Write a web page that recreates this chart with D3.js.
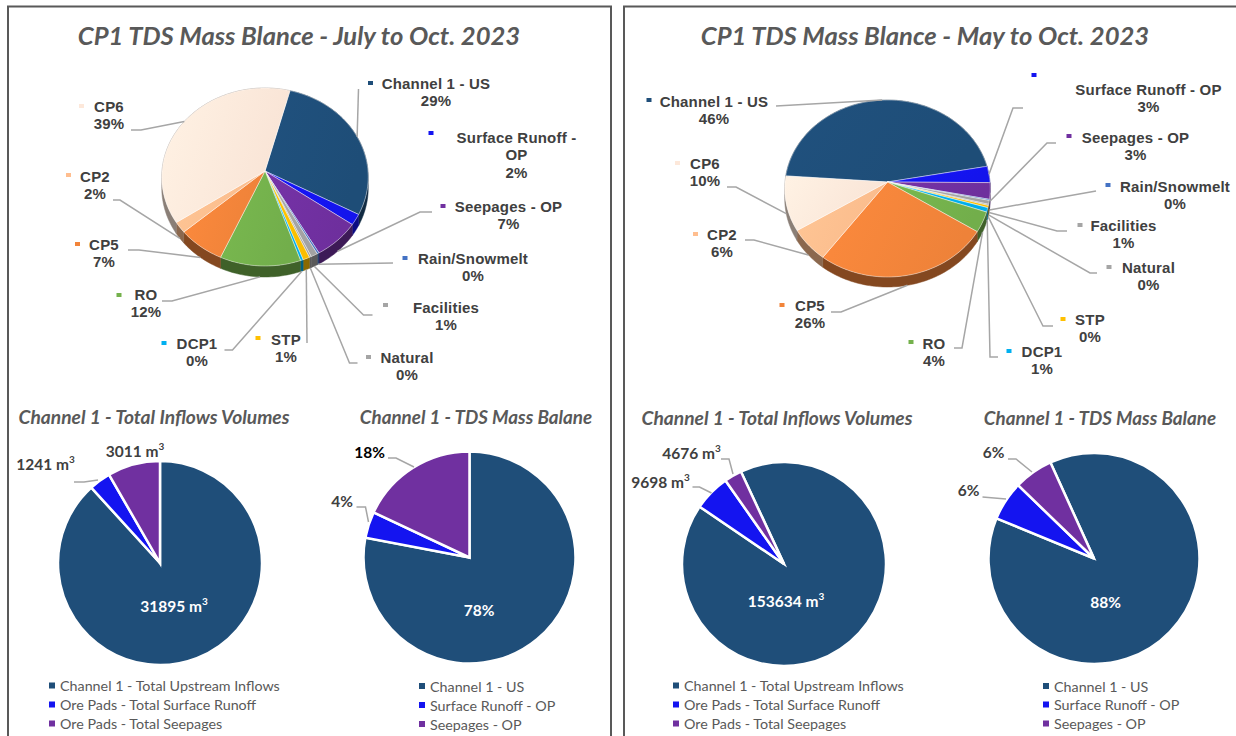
<!DOCTYPE html>
<html>
<head>
<meta charset="utf-8">
<script src="https://cdn.jsdelivr.net/npm/d3@7"></script>
<style>
    html, body { margin: 0; padding: 0; background: #fff; }
    svg { display: block; }
    text { fill: #404040; }
    .big-label { font: bold 15px "Liberation Sans", sans-serif; letter-spacing: 0.2px; text-anchor: middle; dominant-baseline: central; }
    .main-title { font: italic bold 25.6px Lato, sans-serif; fill: #595959; text-anchor: middle; dominant-baseline: central; }
    .sub-title { font: italic bold 18.8px Lato, sans-serif; fill: #595959; text-anchor: middle; dominant-baseline: central; }
    .pie-label { font: bold 15.5px Lato, sans-serif; text-anchor: middle; dominant-baseline: central; }
    .legend-label { font: 14.3px Lato, sans-serif; fill: #595959; dominant-baseline: central; }
    .leader { fill: none; stroke: #a6a6a6; stroke-width: 1.5px; }
</style>
</head>
<body>
<svg id="chart" width="1236" height="736"></svg>
<script>
// series shared by the two big pies
const sources = ['Channel 1 - US', 'Surface Runoff - OP', 'Seepages - OP', 'Rain/Snowmelt', 'Facilities',
    'Natural', 'STP', 'DCP1', 'RO', 'CP5', 'CP2', 'CP6'];
const sourceColors = ['#1f4e79', '#1414f0', '#7030a0', '#4472c4', '#a5a5a5', '#a5a5a5',
    '#ffc000', '#00b0f0', '#74b14c', '#f2843a', '#ffbe8f', '#fde8da'];

// percent shares (labels are these rounded)
const julyShares = [29, 2, 7, 0.3, 1, 0.3, 1, 0.4, 12, 7, 2, 39];
const mayShares = [46, 3, 3, 0.2, 0.7, 0.2, 0.4, 0.8, 3.7, 26, 6, 10];

// small pies
const smallColors = ['#1f4e79', '#1414f0', '#7030a0'];
const volumeNames = ['Channel 1 - Total Upstream Inflows', 'Ore Pads - Total Surface Runoff', 'Ore Pads - Total Seepages'];
const massNames = ['Channel 1 - US', 'Surface Runoff - OP', 'Seepages - OP'];
const julyVolumes = [31895, 1241, 3011];
const julyMass = [78, 4, 18];
const mayVolumes = [153634, 9698, 4676];
const mayMass = [88, 6, 6];

// label placement for the big pies, same order as sources: text x, first line y, marker x/y, leader knee + end
const julyLabels = [
    { x: 436, y: 83, mx: 370.5, my: 83, line: [[358.5, 89]] },
    { x: 516.5, y: 137, mx: 431, my: 133, lines: ['Surface Runoff -', 'OP'] },
    { x: 508.5, y: 206, mx: 443, my: 206, line: [[420, 212], [432, 212]] },
    { x: 473, y: 258, mx: 405, my: 258, line: [[393, 263]] },
    { x: 446, y: 307, mx: 385.5, my: 305, line: [[363.5, 315], [372.5, 315]] },
    { x: 407, y: 357, mx: 368.5, my: 357, line: [[349.5, 363], [357.5, 363]] },
    { x: 286, y: 339, mx: 258, my: 338, line: [[307, 343]] },
    { x: 197, y: 343, mx: 164, my: 343, line: [[232.5, 350], [224.5, 350]] },
    { x: 146, y: 294, mx: 119, my: 295, line: [[172, 301], [162, 301]] },
    { x: 104, y: 244, mx: 77.5, my: 244, line: [[139, 250], [128, 250]] },
    { x: 95, y: 176, mx: 68.5, my: 175, line: [[120, 200], [113, 200]] },
    { x: 109, y: 106, mx: 81.5, my: 106, line: [[141, 130], [131, 130]] }
];
const mayLabels = [
    { x: 714, y: 101, mx: 649, my: 100, line: [[776, 106]] },
    { x: 1148.5, y: 89, mx: 1034, my: 75, line: [[1013, 108], [1023, 108]] },
    { x: 1135.5, y: 137, mx: 1069, my: 136, line: [[1047, 143], [1056, 143]] },
    { x: 1175, y: 186, mx: 1108, my: 185, line: [[1096, 191]] },
    { x: 1123.5, y: 225, mx: 1080, my: 225, line: [[1057, 231], [1067, 231]] },
    { x: 1148.5, y: 267, mx: 1109, my: 267, line: [[1090, 273], [1097, 273]] },
    { x: 1090, y: 319, mx: 1063, my: 319, line: [[1043, 326], [1053, 326]] },
    { x: 1042, y: 351, mx: 1009, my: 351, line: [[990, 357], [998, 357]] },
    { x: 934, y: 343, mx: 911, my: 342, line: [[962, 348], [954, 348]] },
    { x: 810, y: 305, mx: 782, my: 305, line: [[841, 312], [831, 312]] },
    { x: 722, y: 234, mx: 695.5, my: 234, line: [[754, 240], [745, 240]] },
    { x: 705, y: 163, mx: 677.5, my: 163, line: [[736, 187], [727, 187]] }
];

const svg = d3.select('#chart');
const defs = svg.append('defs');
let gradientCount = 0;

// panel frames, they run off the bottom of the picture
svg.append('rect').attr('x', 8).attr('y', 6.5).attr('width', 603).attr('height', 760)
    .attr('fill', 'none').attr('stroke', '#595959').attr('stroke-width', 2);
svg.append('rect').attr('x', 624).attr('y', 6.5).attr('width', 640).attr('height', 760)
    .attr('fill', 'none').attr('stroke', '#595959').attr('stroke-width', 2);

svg.append('text').attr('class', 'main-title').attr('x', 299).attr('y', 35).text('CP1 TDS Mass Blance - July to Oct. 2023');
svg.append('text').attr('class', 'main-title').attr('x', 925).attr('y', 35).text('CP1 TDS Mass Blance - May to Oct. 2023');

function sliceGradient(color) {
    const id = `slice-${gradientCount++}`;
    const grad = defs.append('linearGradient').attr('id', id).attr('x1', 0).attr('x2', 1).attr('y1', 0).attr('y2', 0.3);
    grad.append('stop').attr('offset', 0).attr('stop-color', d3.color(color).brighter(0.12));
    grad.append('stop').attr('offset', 1).attr('stop-color', d3.color(color).darker(0.05));
    return `url(#${id})`;
}

// tilted pie with a little perspective: the apex sits above the middle of the ellipse
function drawTiltedPie(shares, labels, cx, cy, opts) {
    const { rx, up, down, depth, start } = opts;
    const k = (down - up) / (down + up);
    const ry = up * (1 + k);
    const project = (angle, r = 1) => {
        const u = r * Math.sin(angle), v = r * Math.cos(angle);
        return [cx + rx * u / (1 + k * v), cy - ry * v / (1 + k * v)];
    };
    const arcPoints = (a0, a1) => d3.range(0, 1.0001, 1 / Math.max(2, Math.ceil((a1 - a0) * 40)))
        .map(t => project(a0 + (a1 - a0) * t));
    const line = d3.line();

    const arcs = d3.pie().sort(null).startAngle(start).endAngle(start + 2 * Math.PI)(shares);
    const g = svg.append('g');

    // side wall first, the tops cover what should not show
    arcs.forEach((d, i) => {
        const rim = arcPoints(d.startAngle, d.endAngle);
        const lower = rim.map(p => [p[0], p[1] + depth]).reverse();
        g.append('path').attr('d', line(rim.concat(lower)) + 'Z')
            .attr('fill', d3.color(sourceColors[i]).darker(1.7))
            .attr('stroke', d3.color(sourceColors[i]).darker(1.7)).attr('stroke-width', 0.5);
    });
    arcs.forEach((d, i) => {
        g.append('path').attr('d', line([[cx, cy]].concat(arcPoints(d.startAngle, d.endAngle))) + 'Z')
            .attr('fill', sliceGradient(sourceColors[i]))
            .attr('stroke', '#fff').attr('stroke-opacity', 0.7).attr('stroke-width', 0.6);
    });

    arcs.forEach((d, i) => {
        const label = labels[i];
        if (label.line) {
            const mid = (d.startAngle + d.endAngle) / 2;
            const p = project(mid);
            if (Math.cos(mid) < 0) p[1] += depth;
            svg.append('path').attr('class', 'leader').attr('d', line([p].concat(label.line)));
        }
        svg.append('rect').attr('x', label.mx - 2.5).attr('y', label.my - 2).attr('width', 5).attr('height', 4)
            .attr('fill', sourceColors[i]);
        const rows = (label.lines || [sources[i]]).concat(`${Math.round(d.data)}%`);
        rows.forEach((row, r) => {
            svg.append('text').attr('class', 'big-label').attr('x', label.x).attr('y', label.y + r * 17.7).text(row);
        });
    });
}

function drawFlatPie(values, cx, cy, r, start) {
    const arc = d3.arc().innerRadius(0).outerRadius(r);
    const arcs = d3.pie().sort(null).startAngle(start).endAngle(start + 2 * Math.PI)(values);
    svg.append('g').attr('transform', `translate(${cx},${cy})`)
        .selectAll('path').data(arcs).join('path')
        .attr('d', arc)
        .attr('fill', (d, i) => smallColors[i])
        .attr('stroke', '#fff').attr('stroke-width', 2.5);
}

function pieLabel(x, y, value, unit, color) {
    const t = svg.append('text').attr('class', 'pie-label').attr('x', x).attr('y', y).text(value + unit);
    if (color) t.style('fill', color);
    if (unit === ' m') {
        t.append('tspan').attr('dy', -5).style('font-size', '10px').text('3');
    }
}

function leader(points) {
    svg.append('path').attr('class', 'leader').attr('d', d3.line()(points));
}

function legend(names, markerX, textX, rows) {
    names.forEach((name, i) => {
        svg.append('rect').attr('x', markerX - 3).attr('y', rows[i] - 3).attr('width', 6).attr('height', 6).attr('fill', smallColors[i]);
        svg.append('text').attr('class', 'legend-label').attr('x', textX).attr('y', rows[i]).text(name);
    });
}

const deg = Math.PI / 180;

drawTiltedPie(julyShares, julyLabels, 265, 171, { rx: 103, up: 83, down: 95, depth: 11, start: 15 * deg });
drawTiltedPie(mayShares, mayLabels, 887.5, 182, { rx: 102.5, up: 82, down: 95, depth: 10, start: -86 * deg });

// bottom row, left panel
svg.append('text').attr('class', 'sub-title').attr('x', 154).attr('y', 416).style('font-size', '19.2px').text('Channel 1 - Total Inflows Volumes');
drawFlatPie(julyVolumes, 160, 563, 102, 0);
pieLabel(174, 606, julyVolumes[0], ' m', '#fff');
pieLabel(45.5, 464, julyVolumes[1], ' m');
pieLabel(135, 451, julyVolumes[2], ' m');
leader([[74, 482], [84, 482], [98, 480]]);
legend(volumeNames, 52, 60, [685.5, 704.5, 723.5]);

svg.append('text').attr('class', 'sub-title').attr('x', 476).attr('y', 416).text('Channel 1 - TDS Mass Balane');
drawFlatPie(julyMass, 469.5, 557.5, 106, 0);
pieLabel(479, 610, julyMass[0], '%', '#fff');
pieLabel(342, 501, julyMass[1], '%');
pieLabel(369.5, 452, julyMass[2], '%', '#000');
leader([[388, 458], [396, 458], [414, 467]]);
leader([[356.5, 507], [365.5, 507], [368.5, 522]]);
legend(massNames, 422, 430, [686, 705, 724]);

// bottom row, right panel
svg.append('text').attr('class', 'sub-title').attr('x', 777).attr('y', 417).style('font-size', '19.2px').text('Channel 1 - Total Inflows Volumes');
drawFlatPie(mayVolumes, 784, 564, 102, -25 * deg);
pieLabel(786, 601, mayVolumes[0], ' m', '#fff');
pieLabel(660.5, 482, mayVolumes[1], ' m');
pieLabel(691.5, 453, mayVolumes[2], ' m');
leader([[692.5, 487], [699.5, 487], [711.5, 493]]);
leader([[721, 459], [729, 459], [733, 474]]);
legend(volumeNames, 676, 684, [685.5, 704.5, 723.5]);

svg.append('text').attr('class', 'sub-title').attr('x', 1100).attr('y', 417).text('Channel 1 - TDS Mass Balane');
drawFlatPie(mayMass, 1094, 558.5, 105.5, -24.4 * deg);
pieLabel(1105.5, 602, mayMass[0], '%', '#fff');
pieLabel(968.5, 490, mayMass[1], '%');
pieLabel(993.5, 452, mayMass[2], '%');
leader([[982.5, 497], [1006, 499]]);
leader([[1008, 459], [1016, 459], [1032, 472]]);
legend(massNames, 1046, 1054, [686, 704.5, 723.5]);
</script>
</body>
</html>
